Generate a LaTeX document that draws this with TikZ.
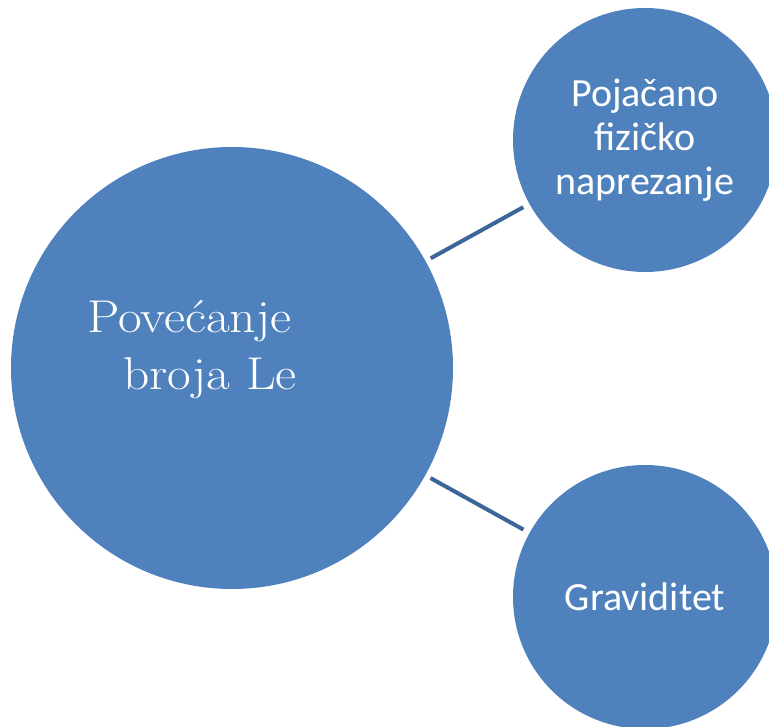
\documentclass[tikz,border=0pt]{standalone}
\usepackage{fontspec}
\newfontfamily\calibrifont{Carlito}
\newfontfamily\mainlabelfont[FakeStretch=1.12]{Latin Modern Roman}
\definecolor{bubblefill}{HTML}{4F81BD}
\definecolor{linkline}{HTML}{3C6598}
\tikzset{
  bubble/.style={circle, fill=bubblefill, inner sep=0, outer sep=0, text=white},
  small bubble/.style={bubble, minimum size=264, align=center,
    font=\calibrifont\fontsize{40}{44}\selectfont},
  link/.style={draw=linkline, line width=4, shorten <=6, shorten >=7}
}
\begin{document}
\begin{tikzpicture}[x=1pt, y=1pt]
  \useasboundingbox (0,0) rectangle (769,727);
  \node[bubble, minimum size=442] (main) at (232,359) {};
  \node[small bubble] (upper) at (645,587) {Pojačano\\fizičko\\naprezanje};
  \node[small bubble] (lower) at (645,130) {Graviditet};

  \node[anchor=base west, inner sep=0, text=white, align=left,
    font=\mainlabelfont\fontsize{46}{57}\selectfont] (mainlabel) at (87,337)
    {Povećanje\\\hspace*{36pt}broja Le};

  \draw[link] (main) -- (upper);
  \draw[link] (main) -- (lower);
\end{tikzpicture}
\end{document}
